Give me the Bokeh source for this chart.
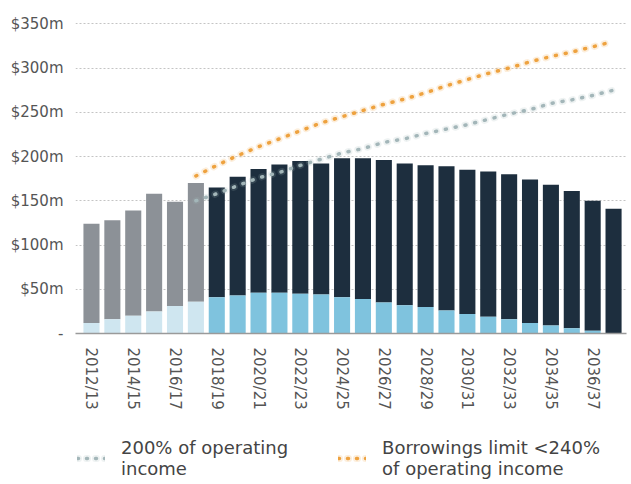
from bokeh.plotting import figure
from bokeh.layouts import column
from bokeh.models import ColumnDataSource, Range1d, FixedTicker, Legend, LegendItem
from bokeh.embed import file_html
from bokeh.resources import INLINE

# ---------------- data ----------------
years = ["2012/13", "2013/14", "2014/15", "2015/16", "2016/17", "2017/18",
         "2018/19", "2019/20", "2020/21", "2021/22", "2022/23", "2023/24",
         "2024/25", "2025/26", "2026/27", "2027/28", "2028/29", "2029/30",
         "2030/31", "2031/32", "2032/33", "2033/34", "2034/35", "2035/36",
         "2036/37", "2037/38"]
total_debt = [124, 128, 139, 158, 149, 170, 165, 177, 186, 191, 195, 192, 198,
              198, 196, 192, 190, 189, 185, 183, 180, 174, 168, 161, 150, 141]
lower_part = [12, 16, 20, 25, 31, 36, 41, 43, 46, 46, 45, 44, 41,
              39, 35, 32, 30, 26, 22, 19, 16, 12, 9, 6, 3, 0]
n_actual = 6  # 2012/13 .. 2017/18 are actuals

line_years = years[5:]
limit_200 = [150, 158, 167, 176, 182, 190, 197, 204, 209, 216, 220, 226, 231,
             236, 242, 248, 253, 260, 264, 269, 275]
limit_240 = [178, 190, 201, 211, 220, 229, 238, 245, 252, 259, 265, 272, 280,
             287, 294, 300, 307, 313, 318, 324, 330]
legend_labels = ["200% of operating\nincome",
                 "Borrowings limit <240%\nof operating income"]

y_ticks = [0, 50, 100, 150, 200, 250, 300, 350]
y_tick_labels = ["-", "$50m", "$100m", "$150m", "$200m", "$250m", "$300m", "$350m"]

# ---------------- styling ----------------
FONT = "DejaVu Sans"
TXT = "#555555"
DARK_ACT, LIGHT_ACT = "#8c9197", "#cfe6f0"
DARK_FC, LIGHT_FC = "#1d2e3e", "#7fc3de"
GREY_DOT, ORANGE_DOT = "#a3b6b9", "#eea23f"

xs = list(range(len(years)))
dark = [DARK_ACT if i < n_actual else DARK_FC for i in xs]
light = [LIGHT_ACT if i < n_actual else LIGHT_FC for i in xs]
src = ColumnDataSource(dict(x=xs, total=total_debt, lower=lower_part, dark=dark, light=light))

lx = [years.index(y) for y in line_years]

p = figure(width=631, height=420, output_backend="svg", toolbar_location=None,
           x_range=Range1d(-0.765, 25.62), y_range=Range1d(0, 365),
           min_border_left=75, min_border_right=5, min_border_top=10,
           min_border_bottom=87, outline_line_color=None,
           background_fill_color="white", border_fill_color="white")

p.vbar(x="x", bottom="lower", top="total", width=0.77, fill_color="dark",
       line_color=None, source=src)
p.vbar(x="x", bottom=0, top="lower", width=0.77, fill_color="light",
       line_color=None, source=src)

halo = dict(line_alpha=0.18, line_width=7, line_dash="1 9", line_cap="round")
dots = dict(line_width=3.5, line_dash="1 9", line_cap="round")
p.line(lx, limit_200, line_color=GREY_DOT, **halo)
p.line(lx, limit_200, line_color=GREY_DOT, **dots)
p.line(lx, limit_240, line_color=ORANGE_DOT, **halo)
p.line(lx, limit_240, line_color=ORANGE_DOT, **dots)

# axes
p.yaxis.ticker = FixedTicker(ticks=y_ticks)
p.yaxis.major_label_overrides = {t: l for t, l in zip(y_ticks, y_tick_labels)}
p.yaxis.axis_line_color = None
p.yaxis.major_tick_line_color = None
p.yaxis.minor_tick_line_color = None
p.yaxis.major_label_text_font = FONT
p.yaxis.major_label_text_font_size = "15px"
p.yaxis.major_label_text_color = TXT
p.yaxis.major_label_standoff = 6

tick_idx = xs[::2]
p.xaxis.ticker = FixedTicker(ticks=tick_idx)
p.xaxis.major_label_overrides = {i: years[i] for i in tick_idx}
p.xaxis.major_label_orientation = "vertical"
p.xaxis.axis_line_color = "#9a9a9a"
p.xaxis.axis_line_width = 1.5
p.xaxis.major_tick_line_color = None
p.xaxis.minor_tick_line_color = None
p.xaxis.major_label_text_font = FONT
p.xaxis.major_label_text_font_size = "15px"
p.xaxis.major_label_text_color = TXT
p.xaxis.major_label_standoff = 8

p.xgrid.grid_line_color = None
p.ygrid.grid_line_color = "#c4c4c4"
p.ygrid.grid_line_dash = "2 2"
p.ygrid.grid_line_width = 1

# ---------------- legend strip (frame aligned with main plot: x 75..626) ----
q = figure(width=631, height=64, output_backend="svg", toolbar_location=None,
           x_range=Range1d(0, 1), y_range=Range1d(0, 1),
           x_axis_location=None, y_axis_location=None,
           min_border=0, outline_line_color=None,
           background_fill_color="white", border_fill_color="white")
q.grid.visible = False
off = [5, 6]  # legend proxies lie outside the visible range
lg_halo = dict(line_alpha=0.18, line_width=7, line_dash="1 8", line_cap="round")
lg_dots = dict(line_width=3.5, line_dash="1 8", line_cap="round")
r1 = [q.line(off, off, line_color=GREY_DOT, **lg_halo), q.line(off, off, line_color=GREY_DOT, **lg_dots)]
r2 = [q.line(off, off, line_color=ORANGE_DOT, **lg_halo), q.line(off, off, line_color=ORANGE_DOT, **lg_dots)]

legend = Legend(items=[LegendItem(label=legend_labels[0], renderers=r1),
                       LegendItem(label=legend_labels[1], renderers=r2)],
                orientation="horizontal", location=(2, 5))
legend.label_text_font = FONT
legend.label_text_font_size = "18px"
legend.label_text_color = "#444444"
legend.glyph_width = 28
legend.label_standoff = 16
legend.spacing = 50
legend.border_line_color = None
legend.background_fill_alpha = 0
legend.margin = 0
legend.padding = 0
q.add_layout(legend, "center")

open("out.html", "w").write(file_html(column(p, q, spacing=0), INLINE))
